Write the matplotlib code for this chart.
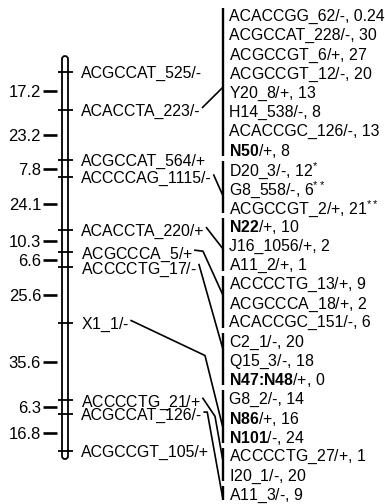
import numpy as np
import matplotlib
matplotlib.use('Agg')
import matplotlib.pyplot as plt
from matplotlib.patches import FancyBboxPatch

plt.rcParams['font.family'] = ['Liberation Sans', 'DejaVu Sans']
plt.rcParams['mathtext.fontset'] = 'custom'
plt.rcParams['mathtext.rm'] = 'Liberation Sans'
plt.rcParams['mathtext.it'] = 'Liberation Sans:italic'
plt.rcParams['mathtext.bf'] = 'Liberation Sans:bold'

# distances between neighbouring markers (cM)
intervals = [17.2, 23.2, 7.8, 24.1, 10.3, 6.6, 25.6, 35.6, 6.3, 16.8]

# markers on the linkage group, top to bottom
map_markers = ['ACGCCAT_525/-', 'ACACCTA_223/-', 'ACGCCAT_564/+',
               'ACCCCAG_1115/-', 'ACACCTA_220/+', r'ACGCCCA_$\mathit{5}$/+',
               r'ACCCCTG_$\mathit{17}$/-', r'X1_$\mathit{1}$/-',
               r'ACCCCTG_$\mathit{21}$/+', 'ACGCCAT_126/-', 'ACGCCGT_105/+']

# linked markers listed on the right
linked = ['ACACCGG_62/-, 0.24', 'ACGCCAT_228/-, 30',
          r'ACGCCGT_$\mathit{6}$/+, 27', r'ACGCCGT_$\mathit{12}$/-, 20',
          r'Y20_$\mathit{8}$/+, 13', 'H14_538/-, 8', 'ACACCGC_126/-, 13',
          r'$\mathbf{N50}$/+, 8',
          r'D20_$\mathit{3}$/-, 12$^{*}$', r'G8_558/-, 6$^{**}$',
          r'ACGCCGT_$\mathit{2}$/+, 21$^{**}$',
          r'$\mathbf{N22}$/+, 10', 'J16_1056/+, 2', r'A11_$\mathit{2}$/+, 1',
          r'ACCCCTG_$\mathit{13}$/+, 9', r'ACGCCCA_$\mathit{18}$/+, 2',
          'ACACCGC_151/-, 6',
          r'C2_$\mathit{1}$/-, 20', r'Q15_$\mathit{3}$/-, 18',
          r'$\mathbf{N47\colon N48}$/+, 0',
          'G8_2/-, 14', r'$\mathbf{N86}$/+, 16', r'$\mathbf{N101}$/-, 24',
          r'ACCCCTG_$\mathit{27}$/+, 1', r'I20_$\mathit{1}$/-, 20',
          r'A11_$\mathit{3}$/-, 9']

# groups of linked markers (first row, last row)
groups = [(0, 7), (8, 10), (11, 13), (14, 16), (17, 19), (20, 22), (23, 24), (25, 25)]

# map marker index -> row of the right list it points at
links = [(1, 3.8), (3, 9.4), (4, 12.2), (5, 14.6), (6, 17.4), (7, 21.5), (8, 23.2), (9, 25.2)]
# bends in some link lines: marker index -> (x px, y offset px)
bends = {5: (203, 1), 7: (205, 35), 8: (215, 18), 9: (206, 0)}

pos = np.concatenate([[0], np.cumsum(intervals)])

PX = 2.184   # pixels per cM
Y0 = 72      # pixel row of the first marker

def cm(py):
    return (py - Y0) / PX

def row_y(i):
    return cm(15 + 19.12 * i)

fig = plt.figure(figsize=(3.85, 5.04), dpi=100)
ax = fig.add_axes([0, 0, 1, 1])
ax.set_xlim(0, 385)
ax.set_ylim(cm(504), cm(0))
ax.axis('off')

fs_left = 11.4
fs_right = 11.4

# chromosome
chrom = FancyBboxPatch((62, pos[0] - 7.3), 6, pos[-1] - pos[0] + 11.0,
                       boxstyle='round,pad=0,rounding_size=3', mutation_aspect=1 / PX,
                       fc='white', ec='black', lw=1.3, zorder=2)
ax.add_patch(chrom)
ax.hlines(pos, 57.5, 72.5, color='black', lw=1.3, zorder=3)

# interval distances
mids = (pos[:-1] + pos[1:]) / 2
ax.hlines(mids, 43, 57, color='black', lw=1.9)
for m, d in zip(mids, intervals):
    ax.text(41, m, f'{d}', ha='right', va='center_baseline', fontsize=12)

# marker names
left_texts = []
for p, name in zip(pos, map_markers):
    left_texts.append(ax.text(81, p, name, ha='left', va='center_baseline', fontsize=fs_left))

# right column
for i, name in enumerate(linked):
    ax.text(229, row_y(i), name, ha='left', va='center_baseline', fontsize=fs_right)

step = row_y(1) - row_y(0)
for a, b in groups:
    ax.vlines(222.5, row_y(a) - 0.37 * step, row_y(b) + 0.37 * step, color='black', lw=1.7)

# link lines
fig.canvas.draw()
r = fig.canvas.get_renderer()
inv = ax.transData.inverted()
for idx, row in links:
    bb = left_texts[idx].get_window_extent(r)
    x0 = inv.transform((bb.x1, bb.y0))[0] + 2
    ys = pos[idx] - 1.0
    xs_line = [x0]
    ys_line = [ys]
    if idx in bends:
        bx, bdy = bends[idx]
        xs_line.append(max(bx, x0 + 3))
        ys_line.append(ys + bdy / PX)
    xs_line.append(222.5)
    ys_line.append(row_y(row))
    ax.plot(xs_line, ys_line, color='black', lw=1.2)

fig.savefig('out.png', dpi=100)
